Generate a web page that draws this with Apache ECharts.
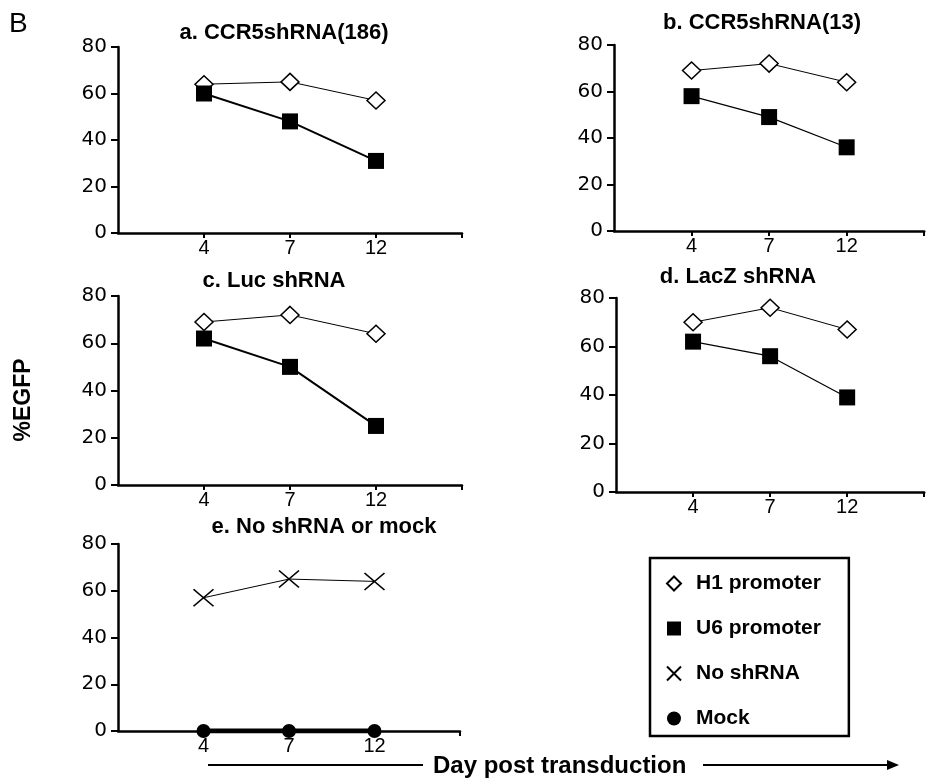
<!DOCTYPE html>
<html>
<head>
<meta charset="utf-8">
<script src="https://cdn.jsdelivr.net/npm/echarts@6/dist/echarts.min.js"></script>
<style>
  html, body { margin: 0; padding: 0; background: #fff; }
  #egfp { width: 930px; height: 780px; }
</style>
</head>
<body>
<div id="egfp"></div>
<script>
// day post transduction (x categories)
var days = ['4', '7', '12'];

// %EGFP
var h1A = [64, 65, 57];
var u6A = [60, 48, 31];
var h1B = [69, 72, 64];
var u6B = [58, 49, 36];
var h1C = [69, 72, 64];
var u6C = [62, 50, 25];
var h1D = [70, 76, 67];
var u6D = [62, 56, 39];
var noShRNA = [57, 65, 64];
var mock = [0, 0, 0];

var panelTitles = ['a. CCR5shRNA(186)', 'b. CCR5shRNA(13)', 'c. Luc shRNA', 'd. LacZ shRNA', 'e. No shRNA or mock'];

var chartDom = document.getElementById('egfp');
var egfpChart = echarts.init(chartDom);

var grids = [
  { left: 118, top: 47, width: 344, height: 186 },
  { left: 614, top: 45, width: 325, height: 186 },
  { left: 118, top: 296, width: 344, height: 189 },
  { left: 616, top: 298, width: 321, height: 194 },
  { left: 118, top: 544, width: 342, height: 187 }
];
var titlePos = [[284, 22], [762, 12], [274, 270], [738, 266], [324, 516]];

var xCats = [''].concat(days).concat([' ']);
var xSymbol = 'path://M0,0 L20,17 M20,0 L0,17';

function pts(vals) {
  return vals.map(function (v, i) { return [days[i], v]; });
}

function h1Series(g, vals) {
  return {
    name: 'H1 promoter', type: 'line', xAxisIndex: g, yAxisIndex: g,
    data: pts(vals), symbol: 'diamond', symbolSize: [18, 17],
    itemStyle: { color: '#fff', borderColor: '#000', borderWidth: 1.5 },
    lineStyle: { color: '#000', width: 1 }, animation: false
  };
}
function u6Series(g, vals, w) {
  return {
    name: 'U6 promoter', type: 'line', xAxisIndex: g, yAxisIndex: g,
    data: pts(vals), symbol: 'rect', symbolSize: 16,
    itemStyle: { color: '#000' },
    lineStyle: { color: '#000', width: w }, animation: false
  };
}

var series = [
  h1Series(0, h1A), u6Series(0, u6A, 2),
  h1Series(1, h1B), u6Series(1, u6B, 1.2),
  h1Series(2, h1C), u6Series(2, u6C, 2),
  h1Series(3, h1D), u6Series(3, u6D, 1.2),
  {
    name: 'No shRNA', type: 'line', xAxisIndex: 4, yAxisIndex: 4,
    data: pts(noShRNA), symbol: xSymbol, symbolSize: [20, 17],
    itemStyle: { color: 'rgba(0,0,0,0)', borderColor: '#000', borderWidth: 1.5 },
    lineStyle: { color: '#000', width: 1 }, animation: false
  },
  {
    name: 'Mock', type: 'line', xAxisIndex: 4, yAxisIndex: 4,
    data: pts(mock), symbol: 'circle', symbolSize: 14,
    itemStyle: { color: '#000' },
    lineStyle: { color: '#000', width: 5 }, animation: false
  }
];

var egfp_option = {
  backgroundColor: '#fff',
  title: panelTitles.map(function (t, i) {
    return {
      text: t, left: titlePos[i][0], top: titlePos[i][1], textAlign: 'center', padding: 0,
      textStyle: { fontFamily: 'Liberation Sans', fontWeight: 'bold', fontSize: 22, color: '#000' }
    };
  }),
  grid: grids,
  xAxis: grids.map(function (g, i) {
    return {
      type: 'category', gridIndex: i, data: xCats, boundaryGap: false,
      axisLine: { lineStyle: { color: '#000', width: 2.5 } },
      axisTick: { show: true, interval: function (idx) { return idx > 0; }, length: 5, lineStyle: { color: '#000', width: 2 } },
      axisLabel: { interval: 0, margin: 5, fontFamily: 'Liberation Sans', fontSize: 20, color: '#000' },
      splitLine: { show: false }
    };
  }),
  yAxis: grids.map(function (g, i) {
    return {
      type: 'value', gridIndex: i, min: 0, max: 80, interval: 20,
      axisLine: { show: true, lineStyle: { color: '#000', width: 2.5 } },
      axisTick: { show: true, length: 7, lineStyle: { color: '#000', width: 2 } },
      axisLabel: { margin: 11, fontFamily: 'DejaVu Sans', fontSize: 20, color: '#000' },
      splitLine: { show: false }
    };
  }),
  legend: {
    orient: 'vertical', left: 650, top: 558,
    padding: [15, 28, 7, 16], itemWidth: 14, itemHeight: 14, itemGap: 24,
    borderColor: '#000', borderWidth: 2.5, selectedMode: false,
    textStyle: { fontFamily: 'Liberation Sans', fontWeight: 'bold', fontSize: 21, color: '#000', lineHeight: 20, padding: [0, 0, 0, 10] },
    data: [
      { name: 'H1 promoter', icon: 'diamond', itemStyle: { color: '#fff', borderColor: '#000', borderWidth: 2 } },
      { name: 'U6 promoter', icon: 'rect', itemStyle: { color: '#000', borderWidth: 0 } },
      { name: 'No shRNA', icon: 'path://M0,0 L10,10 M10,0 L0,10', itemStyle: { color: 'rgba(0,0,0,0)', borderColor: '#000', borderWidth: 2 } },
      { name: 'Mock', icon: 'circle', itemStyle: { color: '#000', borderWidth: 0 } }
    ]
  },
  graphic: [
    { type: 'text', left: 9, top: 10, style: { text: 'B', fontFamily: 'Liberation Sans', fontSize: 28, fill: '#000' } },
    {
      type: 'text', x: 24, y: 400, rotation: Math.PI / 2,
      style: { text: '%EGFP', fontFamily: 'Liberation Sans', fontWeight: 'bold', fontSize: 23, fill: '#000', align: 'center', verticalAlign: 'middle' }
    },
    {
      type: 'text', x: 433, y: 766,
      style: { text: 'Day post transduction', fontFamily: 'Liberation Sans', fontWeight: 'bold', fontSize: 24, fill: '#000', verticalAlign: 'middle' }
    },
    { type: 'line', shape: { x1: 208, y1: 765, x2: 423, y2: 765 }, style: { stroke: '#000', lineWidth: 2 } },
    { type: 'line', shape: { x1: 703, y1: 765, x2: 890, y2: 765 }, style: { stroke: '#000', lineWidth: 2 } },
    { type: 'polygon', shape: { points: [[887, 760], [899, 765], [887, 770]] }, style: { fill: '#000' } }
  ],
  series: series
};

egfp_option && egfpChart.setOption(egfp_option);
</script>
</body>
</html>
